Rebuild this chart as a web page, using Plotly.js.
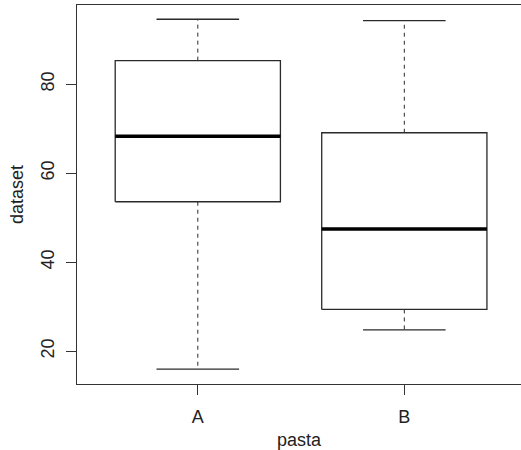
<!DOCTYPE html>
<html>
<head>
<meta charset="utf-8">
<script src="https://cdn.plot.ly/plotly-3.0.1.min.js"></script>
<style>html,body{margin:0;padding:0;background:#fff;}#chart{width:521px;height:450px;}</style>
</head>
<body>
<div id="chart"></div>
<script>
var categories = ['A', 'B'];
var lowerWhisker = [16.0, 24.8];
var q1 = [53.6, 29.4];
var median = [68.3, 47.5];
var q3 = [85.3, 69.1];
var upperWhisker = [94.6, 94.3];

var halfBox = 0.4, halfCap = 0.2;
var pos = categories.map(function (c, i) { return i + 1; });

var bx = [], by = [], mx = [], my = [], wx = [], wy = [], cx = [], cy = [];
pos.forEach(function (p, i) {
  bx.push(p - halfBox, p + halfBox, p + halfBox, p - halfBox, p - halfBox, null);
  by.push(q1[i], q1[i], q3[i], q3[i], q1[i], null);
  mx.push(p - halfBox, p + halfBox, null);
  my.push(median[i], median[i], null);
  wx.push(p, p, null, p, p, null);
  wy.push(q3[i], upperWhisker[i], null, q1[i], lowerWhisker[i], null);
  cx.push(p - halfCap, p + halfCap, null, p - halfCap, p + halfCap, null);
  cy.push(upperWhisker[i], upperWhisker[i], null, lowerWhisker[i], lowerWhisker[i], null);
});

var lineCol = '#2a2a2a';
var traces = [
  {x: wx, y: wy, mode: 'lines', line: {color: lineCol, width: 1, dash: '4px,4px'}, hoverinfo: 'skip'},
  {x: cx, y: cy, mode: 'lines', line: {color: lineCol, width: 1.3}, hoverinfo: 'skip'},
  {x: bx, y: by, mode: 'lines', line: {color: lineCol, width: 1.3}, hoverinfo: 'skip'},
  {x: mx, y: my, mode: 'lines', line: {color: '#000', width: 3.5}, hoverinfo: 'skip'}
];

var font = {family: 'Liberation Sans, Arial, sans-serif', size: 18, color: '#222'};
var layout = {
  width: 521, height: 450,
  margin: {l: 77, r: 0, t: 5, b: 66},
  showlegend: false,
  paper_bgcolor: '#fff', plot_bgcolor: '#fff',
  font: font,
  xaxis: {
    range: [0.415, 2.565],
    tickvals: pos, ticktext: categories,
    showgrid: false, zeroline: false,
    showline: true, mirror: true, linecolor: '#333', linewidth: 1.3,
    ticks: 'outside', ticklen: 10, tickcolor: '#333', tickwidth: 1.3,
    ticklabelstandoff: 6,
    tickfont: font,
    title: {text: 'pasta', font: font, standoff: 10}
  },
  yaxis: {
    range: [12.65, 97.8],
    tickvals: [20, 40, 60, 80],
    showgrid: false, zeroline: false,
    showline: true, linecolor: '#333', linewidth: 1.3,
    ticks: 'outside', ticklen: 10, tickcolor: '#333', tickwidth: 1.3,
    tickangle: -90,
    ticklabelstandoff: 5,
    tickfont: font,
    title: {text: 'dataset', font: font, standoff: 9}
  }
};
Plotly.newPlot('chart', traces, layout, {displayModeBar: false, staticPlot: true});
</script>
</body>
</html>
